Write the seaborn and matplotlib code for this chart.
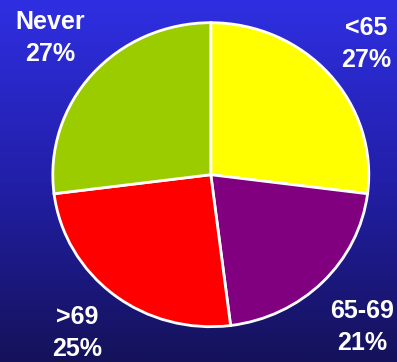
import numpy as np
import matplotlib
matplotlib.use("Agg")
import matplotlib.pyplot as plt
from matplotlib.colors import LinearSegmentedColormap
import seaborn as sns

# Age at first screening: share of respondents per group
categories = ["<65", "65-69", ">69", "Never"]
shares = [27, 21, 25, 27]
slice_colors = ["#FFFF00", "#800080", "#FF0000", "#9ACC00"]

sns.set_theme(style="white")
plt.rcParams["font.family"] = ["Liberation Sans", "DejaVu Sans"]

W, H, DPI = 397, 362, 100
fig = plt.figure(figsize=(W / DPI, H / DPI), dpi=DPI)

# Vertical blue gradient backdrop
bg = fig.add_axes([0, 0, 1, 1], zorder=0)
grad = np.linspace(0, 1, 256).reshape(-1, 1)
cmap = LinearSegmentedColormap.from_list("backdrop", ["#2F2FE2", "#221FA8", "#15125A"])
bg.imshow(grad, aspect="auto", cmap=cmap, extent=[0, 1, 0, 1], origin="upper")
bg.set_axis_off()

ax = fig.add_axes([0, 0, 1, 1], zorder=1)
ax.patch.set_alpha(0)
ax.pie(shares, colors=slice_colors, startangle=90, counterclock=False,
       wedgeprops=dict(edgecolor="white", linewidth=2))
ax.set_aspect("auto")

# Pie centre and radii in pixels
cx, cy, rx, ry = 210.8, 174.7, 158, 152
ax.set_xlim(-cx / rx, (W - cx) / rx)
ax.set_ylim(-(H - cy) / ry, cy / ry)
ax.set_axis_off()

# Labels placed in pixel coordinates of the figure
label_pos = {"<65": (366, 44), "65-69": (362, 327), ">69": (77, 333), "Never": (50, 38)}
for cat, val in zip(categories, shares):
    px, py = label_pos[cat]
    fig.text(px / W, 1 - py / H, f"{cat}\n{val}%", ha="center", va="center",
             color="white", fontsize=18, fontweight="bold", linespacing=1.42,
             zorder=3)

fig.savefig("out.png", dpi=DPI)
